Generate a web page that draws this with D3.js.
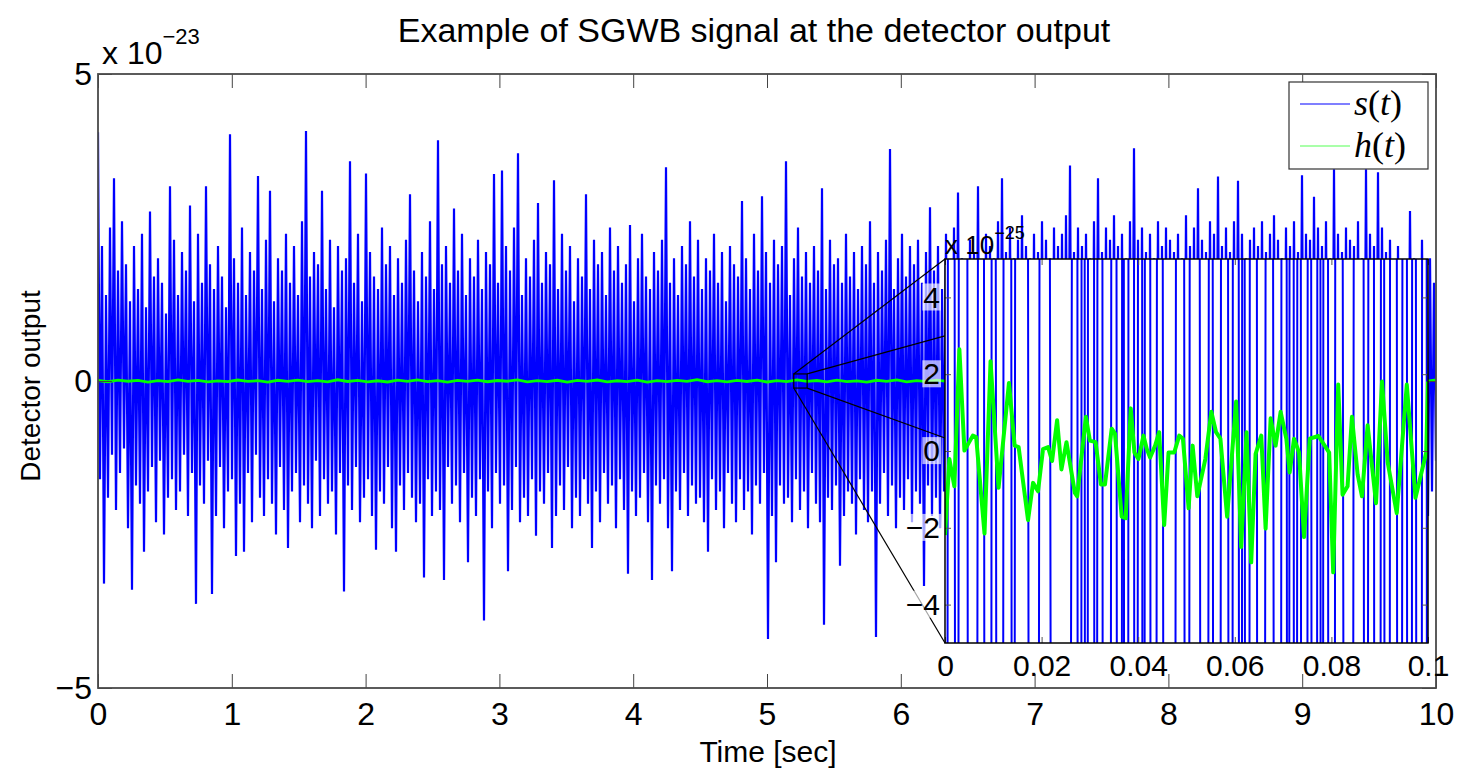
<!DOCTYPE html>
<html lang="en">
<head>
<meta charset="UTF-8">
<title>Example of SGWB signal at the detector output</title>
<script src="https://d3js.org/d3.v7.min.js"></script>
<style>
  body { margin: 0; background: #fff; }
  svg text { font-family: "Liberation Sans", Arial, Helvetica, sans-serif; fill: #000; }
  .legend-text { font-family: "Liberation Serif", "Times New Roman", serif; }
</style>
</head>
<body>
<svg id="chart" width="1458" height="768"></svg>
<script>
// s(t) over the full 10 s, read as alternating column peaks (units of 1e-23)
const sMain = [
  4.05,-1.6,2.2,-3.3,1.4,-1.9,2.5,-1.2,3.3,-2.1,
  1.8,-1.5,2.6,-1.1,1.9,-2.4,1.3,-3.4,2.2,-1.7,
  1.5,-2.0,2.4,-2.78,1.2,-1.8,2.76,-1.4,1.7,-2.3,
  2.0,-1.3,1.6,-2.5,1.1,-1.9,3.17,-1.6,2.3,-2.1,
  1.4,-1.8,2.1,-1.2,1.8,-2.2,2.86,-1.5,1.3,-3.63,
  2.4,-1.7,1.6,-2.0,3.17,-1.3,1.9,-3.47,1.5,-2.2,
  2.2,-1.4,1.7,-2.4,1.2,-1.8,4.02,-1.6,2.0,-2.85,
  1.6,-2.0,2.5,-2.78,1.4,-1.5,2.1,-2.3,1.8,-1.2,
  3.34,-1.9,1.5,-2.2,2.3,-1.6,3.1,-2.0,1.3,-2.5,
  2.0,-1.4,1.8,-2.1,2.4,-2.72,1.6,-1.8,2.2,-1.5,
  1.4,-2.3,2.6,-1.7,4.07,-2.0,1.7,-2.4,2.1,-1.3,
  1.9,-2.2,3.1,-1.6,1.5,-2.0,2.3,-1.8,1.2,-2.5,
  2.2,-1.5,1.8,-3.43,2.0,-1.7,3.58,-2.1,1.6,-1.4,
  2.4,-2.3,1.3,-1.9,3.38,-1.6,2.1,-2.2,1.7,-2.75,
  1.5,-1.8,2.5,-2.0,1.9,-1.4,2.2,-2.4,1.4,-2.78,
  2.0,-1.7,1.6,-2.1,2.3,-1.5,3.04,-1.9,1.8,-2.3,
  1.3,-2.0,2.1,-3.2,1.7,-1.6,2.6,-2.2,1.5,-1.8,
  3.92,-2.1,1.9,-3.24,2.2,-1.4,1.6,-2.0,2.81,-1.7,
  1.8,-2.3,2.4,-1.5,1.4,-2.95,2.0,-1.9,1.7,-2.2,
  2.3,-1.6,1.5,-3.9,2.1,-1.8,1.9,-2.4,3.37,-1.5,
  1.6,-2.0,3.43,-1.7,2.2,-3.1,1.8,-2.1,2.5,-1.4,
  3.71,-2.3,1.4,-1.9,2.0,-2.2,1.7,-1.6,2.3,-2.52,
  2.9,-1.8,1.6,-2.0,2.1,-1.5,1.9,-2.72,3.27,-2.2,
  1.5,-1.7,2.4,-2.1,1.8,-1.4,2.2,-2.4,1.3,-1.9,
  2.0,-2.2,1.7,-1.6,3.04,-2.0,1.5,-2.72,2.3,-1.8,
  1.9,-2.3,2.1,-1.5,1.4,-2.0,2.5,-1.7,1.8,-2.4,
  2.2,-1.6,1.6,-2.1,1.9,-3.14,2.54,-1.8,1.3,-2.2,
  2.0,-1.9,2.4,-1.5,1.7,-2.3,1.5,-3.24,2.1,-1.7,
  1.8,-2.0,2.3,-1.6,3.48,-2.4,1.6,-3.1,2.0,-1.8,
  1.4,-2.1,2.2,-1.5,1.9,-2.2,2.6,-1.7,1.7,-2.0,
  2.3,-1.9,1.5,-2.3,2.0,-2.78,1.8,-1.6,2.4,-2.1,
  1.6,-1.8,2.1,-2.4,1.3,-1.5,2.2,-2.0,1.9,-2.3,
  1.7,-1.6,2.93,-2.1,2.0,-1.8,1.5,-2.5,2.4,-1.7,
  1.8,-2.0,3.01,-1.5,2.1,-4.2,1.6,-2.2,2.3,-2.95,
  1.9,-1.7,2.2,-2.0,3.58,-1.9,1.4,-2.3,2.0,-1.6,
  2.5,-2.1,1.7,-1.8,2.1,-2.4,1.6,-1.5,2.2,-2.0,
  1.8,-2.3,3.14,-3.97,1.5,-1.9,2.3,-2.1,1.9,-1.7,
  2.0,-3.01,1.6,-2.2,2.4,-1.8,1.7,-2.0,2.1,-2.5,
  1.5,-1.6,2.2,-2.1,1.9,-2.3,2.6,-1.8,1.6,-4.17,
  2.1,-2.0,1.8,-1.5,2.3,-2.2,3.78,-1.7,1.5,-2.4,
  2.0,-1.9,2.4,-2.1,1.7,-1.6,2.2,-2.3,1.9,-1.8,
  2.3,-2.0,1.6,-3.34,2.1,-1.7,2.83,-2.2,1.8,-1.9,
  2.2,-2.4,1.5,-1.8,2.4,-2.1,1.9,-1.6,2.5,-2.3,
  3.07,-1.9,2.0,-2.2,1.7,-2.6,2.3,-1.8,2.1,-2.0,
  3.17,-2.3,1.9,-2.1,2.4,-1.7,2.2,-2.5,2.0,-1.9,
  2.6,-2.2,3.3,-2.0,2.1,-2.4,2.5,-1.8,2.0,-2.3,
  2.3,-2.1,2.7,-1.9,2.2,-2.6,2.0,-2.0,2.4,-2.2,
  2.1,-2.5,2.6,-1.8,2.3,-2.2,2.0,-2.7,2.5,-2.0,
  2.2,-2.3,2.4,-2.1,2.7,-1.9,3.51,-2.4,2.1,-2.2,
  2.5,-2.0,2.2,-2.6,2.4,-1.8,2.0,-2.3,2.6,-2.1,
  3.3,-2.2,2.1,-2.0,2.5,-2.4,2.3,-1.9,2.7,-2.2,
  2.2,-2.5,2.4,-2.1,2.0,-2.3,2.6,-2.0,3.79,-2.4,
  2.3,-2.1,2.5,-1.9,2.1,-2.6,2.4,-2.2,2.0,-2.3,
  2.6,-2.0,2.2,-2.4,2.5,-2.1,2.3,-2.5,2.1,-1.9,
  2.4,-2.2,2.0,-2.3,2.7,-2.1,2.2,-2.6,2.5,-2.0,
  3.14,-2.4,2.3,-2.1,2.1,-2.3,2.6,-1.9,2.4,-2.2,
  3.33,-2.0,2.2,-2.5,2.5,-2.2,2.1,-2.4,2.6,-2.1,
  3.26,-2.3,2.4,-2.0,2.0,-2.6,2.3,-2.2,2.5,-2.4,
  2.2,-2.1,2.6,-2.3,2.1,-2.0,2.4,-2.5,2.7,-2.2,
  2.3,-2.4,2.0,-2.1,2.5,-2.3,2.2,-2.0,2.6,-2.5,
  2.1,-2.2,3.35,-2.4,2.4,-2.0,2.3,-2.3,3.0,-2.1,
  2.5,-2.5,2.2,-2.2,2.6,-2.1,2.0,-2.4,3.45,-2.0,
  2.4,-2.3,2.1,-2.5,2.5,-2.2,2.3,-2.1,2.2,-2.4,
  2.6,-2.0,2.0,-2.3,3.45,-2.1,2.4,-2.5,2.2,-2.2,
  3.4,-2.4,2.5,-2.0,2.1,-2.3,2.3,-1.8,1.9,-2.2,
  2.2,-1.6,1.5,-2.1,1.8,-1.9,2.77,-1.5,2.0,-2.3,
  1.7,-2.0,2.3,-1.6,1.4,-2.2,2.0,-1.8,1.6,-1.3
];

// h(t) over the full 10 s (units of 1e-25)
const hMain = [
  0.8,-1.2,1.5,-0.4,0.9,-1.7,0.6,-0.9,1.9,-0.5,1.1,-1.4,0.3,-1.0,1.6,-0.7,0.5,-1.8,1.2,-0.6,
  1.4,-1.1,0.7,-1.5,2.0,-0.8,0.9,-1.3,0.4,-1.6,1.3,-0.5,1.7,-1.0,0.6,-1.9,1.0,-0.7,1.5,-1.2,
  0.8,-0.4,1.8,-1.4,0.5,-1.1,1.2,-1.7,0.9,-0.6,1.6,-1.3,0.4,-0.9,1.4,-1.8,0.7,-1.0,1.1,-0.5,
  2.1,-1.2,0.6,-1.5,1.0,-0.8,1.3,-1.6,0.5,-1.1,1.7,-0.7,0.8,-1.4,1.5,-0.9,0.3,-1.7,1.2,-0.6,
  1.9,-1.3,0.7,-1.0,1.4,-0.5,1.0,-1.8,0.6,-1.2,1.6,-0.8,0.9,-1.5,1.1,-0.4,1.8,-1.1,0.5,-1.6,
  1.3,-0.7,0.8,-1.3,1.5,-1.0,0.4,-1.9,1.2,-0.6,1.7,-1.2,0.7,-0.9,1.4,-1.4,0.9,-0.5,2.0,-1.1,
  0.6,-1.6,1.1,-0.8,1.6,-1.3,0.5,-1.0,1.3,-0.7,0.9,-1.5,1.2,-0.6,1.8
];

// zoomed segment 5.2 s – 5.3 s: times in ms
const hInsetT = [0,0.91,1.94,2.98,4.02,5.76,6.45,8.18,9.43,11.09,13.24,14.42,15.25,17.19,18.23,19.26,20.30,21.34,22.17,23.21,
  24.11,25.15,26.89,27.37,29.17,30.00,31.18,32.29,33.12,34.51,35.20,36.58,37.42,38.46,39.22,40.05,41.09,41.78,42.47,43.51,
  44.34,45.38,46.28,47.46,48.50,49.26,50.44,51.27,52.24,53.90,55.15,56.12,57.02,58.41,60.28,61.32,62.43,63.40,64.30,65.48,
  66.38,67.42,68.45,69.49,70.67,71.36,72.26,73.30,74.34,75.52,77.32,79.54,80.37,81.41,82.31,83.35,84.25,85.43,86.33,87.50,
  89.24,90.48,91.66,93.53,95.61,97.41,99.63,100];
// h(t) in the zoom (units of 1e-25)
const hInsetV = [-2.19,-0.21,-0.92,2.65,0.01,0.40,0.36,-2.15,2.34,-0.96,1.77,0.14,0.10,-1.80,-0.83,-1.05,0.05,0.10,-0.26,0.80,
  -0.48,0.23,-1.09,-1.18,0.89,0.27,0.23,-0.87,-0.87,0.58,0.45,-1.71,-1.75,1.11,-0.04,-0.21,0.40,0.05,-0.17,0.14,
  0.49,-1.93,-0.04,-0.04,0.40,0.32,-1.49,0.14,-1.18,-0.21,1.02,0.49,0.32,-1.71,1.29,-2.50,0.49,-2.90,-0.08,0.40,
  -2.02,0.85,0.14,1.02,0.32,-0.56,0.32,-0.04,-2.24,0.32,0.39,-0.04,-3.16,1.73,-1.14,-0.92,0.89,-0.61,-1.18,0.67,
  -1.36,1.81,-0.30,-1.62,1.73,-1.22,-0.04,1.81];

// s(t) in the zoom: times in ms, values in units of 1e-23 (far outside the zoom range)
const sInsetT = [0,1.25,2.45,3.7,5.5,7.6,9.05,9.9,11.5,12.85,14.1,15.7,18.3,20.5,23.8,27.2,27.9,28.55,29.25,30.2,
  31.2,32.1,33.3,35.0,36.2,36.85,37.55,38.5,39.5,40.4,41.1,41.95,43.0,44.4,46.5,48.7,50.1,51.6,53.7,55.1,
  56.3,57.8,59.2,60.3,61.2,61.7,62.55,63.95,65.15,67.05,69.15,70.2,71.05,71.9,72.45,73.3,74.35,75.4,76.6,77.45,
  77.98,78.85,79.9,81.25,83.7,85.8,87.15,88.35,89.4,90.6,91.65,92.7,94.1,95.3,96.15,97.0,98.25,99.3,100];
const sInsetV = [-0.9,1.1,-0.6,1.4,-1.2,0.8,-1.5,0.7,-1.0,1.3,-0.5,1.6,-1.1,0.9,-1.4,0.6,-1.2,1.0,-0.8,1.5,
  -0.7,1.2,-1.6,0.9,-1.1,0.5,-1.3,1.7,-0.9,1.0,-0.6,1.4,-1.2,0.8,-1.5,1.1,-0.7,1.3,-1.0,0.6,
  -1.4,1.2,-0.8,1.6,-1.1,0.7,-0.9,1.5,-1.3,0.8,-1.0,1.2,-0.6,1.4,-1.1,0.9,-1.5,0.7,-1.2,1.0,
  -0.8,1.3,-1.6,0.9,-1.0,1.4,-0.7,1.1,-1.3,0.6,-1.2,1.5,-0.9,1.0,-1.4,0.8,-1.1,1.2,-0.7];

const mainXTicks = [0,1,2,3,4,5,6,7,8,9,10];
const mainYTicks = [-5,0,5];
const insetXTicks = [0,0.02,0.04,0.06,0.08,0.1];
const insetYTicks = [-4,-2,0,2,4];
const zoomT = [5.2, 5.3];          // seconds
const zoomV = [-0.115, 0.115];     // units of 1e-23
// where the four connector lines meet the zoom axes (units of 1e-25)
const connectV = [5, 3.0, 0.34, -5];

const svg = d3.select("#chart");
const W = 1458, H = 768;
svg.append("rect").attr("width", W).attr("height", H).attr("fill", "#fff");

// ---------- main axes ----------
const m = { left: 98, right: 1436, top: 74, bottom: 688 };
const x = d3.scaleLinear().domain([0, 10]).range([m.left, m.right]);
const y = d3.scaleLinear().domain([-5, 5]).range([m.bottom, m.top]);

const defs = svg.append("defs");
defs.append("clipPath").attr("id", "mainClip")
  .append("rect").attr("x", m.left).attr("y", m.top)
  .attr("width", m.right - m.left).attr("height", m.bottom - m.top);

const plot = svg.append("g").attr("clip-path", "url(#mainClip)");

const sLine = d3.line()
  .x((d, i) => x(i * 10 / (sMain.length - 1)))
  .y(d => y(d));
plot.append("path").datum(sMain)
  .attr("d", sLine)
  .attr("fill", "none")
  .attr("stroke", "#0000ff")
  .attr("stroke-width", 2.2);

const hLine = d3.line()
  .x((d, i) => x(i * 10 / (hMain.length - 1)))
  .y(d => y(d / 100));
plot.append("path").datum(hMain)
  .attr("d", hLine)
  .attr("fill", "none")
  .attr("stroke", "#00ff00")
  .attr("stroke-width", 2.8);

// axis box + ticks
function styleAxis(g) {
  g.select(".domain").remove();
  g.selectAll(".tick line").attr("stroke", "#444").attr("stroke-width", 1);
  g.selectAll(".tick text").style("font-size", "32px").attr("fill", "#000");
}
svg.append("g").attr("transform", `translate(0,${m.bottom})`)
  .call(d3.axisBottom(x).tickValues(mainXTicks).tickSize(-14).tickPadding(14).tickFormat(d3.format("d")))
  .call(styleAxis);
svg.append("g").attr("transform", `translate(0,${m.top})`)
  .call(d3.axisTop(x).tickValues(mainXTicks).tickSize(-14).tickFormat(""))
  .call(styleAxis);
svg.append("g").attr("transform", `translate(${m.left},0)`)
  .call(d3.axisLeft(y).tickValues(mainYTicks).tickSize(-14).tickPadding(6).tickFormat(d3.format("d")))
  .call(styleAxis);
svg.append("g").attr("transform", `translate(${m.right},0)`)
  .call(d3.axisRight(y).tickValues(mainYTicks).tickSize(-14).tickFormat(""))
  .call(styleAxis);
svg.append("rect")
  .attr("x", m.left).attr("y", m.top)
  .attr("width", m.right - m.left).attr("height", m.bottom - m.top)
  .attr("fill", "none").attr("stroke", "#4a4a4a").attr("stroke-width", 1.8);

// exponent label
const expMain = svg.append("text").attr("x", 102).attr("y", 64).style("font-size", "32px");
expMain.append("tspan").text("x 10");
expMain.append("tspan").attr("dy", -20).style("font-size", "22px").text("\u221223");

// titles
svg.append("text").attr("x", 754).attr("y", 42).attr("text-anchor", "middle")
  .style("font-size", "34px").text("Example of SGWB signal at the detector output");
svg.append("text").attr("x", 768).attr("y", 762).attr("text-anchor", "middle")
  .style("font-size", "30px").text("Time [sec]");
svg.append("text").attr("transform", "translate(40,386) rotate(-90)").attr("text-anchor", "middle")
  .style("font-size", "28px").text("Detector output");

// ---------- zoom rectangle & connectors ----------
const ins = { left: 945, right: 1428, top: 259, bottom: 643 };
const xi = d3.scaleLinear().domain([0, 0.1]).range([ins.left, ins.right]);
const yi = d3.scaleLinear().domain([-5, 5]).range([ins.bottom, ins.top]);

svg.append("rect")
  .attr("x", x(zoomT[0])).attr("y", y(zoomV[1]))
  .attr("width", x(zoomT[1]) - x(zoomT[0])).attr("height", y(zoomV[0]) - y(zoomV[1]))
  .attr("fill", "none").attr("stroke", "#000").attr("stroke-width", 1.2);

const corners = [
  [zoomT[0], zoomV[1]], [zoomT[1], zoomV[1]], [zoomT[1], zoomV[0]], [zoomT[0], zoomV[0]]
];
corners.forEach((c, k) => {
  svg.append("line")
    .attr("x1", x(c[0])).attr("y1", y(c[1]))
    .attr("x2", xi(0)).attr("y2", yi(connectV[k]))
    .attr("stroke", "#000").attr("stroke-width", 1.2);
});

// ---------- inset ----------
defs.append("clipPath").attr("id", "insetClip")
  .append("rect").attr("x", ins.left).attr("y", ins.top)
  .attr("width", ins.right - ins.left).attr("height", ins.bottom - ins.top);

svg.append("rect")
  .attr("x", ins.left).attr("y", ins.top)
  .attr("width", ins.right - ins.left).attr("height", ins.bottom - ins.top)
  .attr("fill", "#fff");

const iplot = svg.append("g").attr("clip-path", "url(#insetClip)");
iplot.append("path").datum(sInsetV.map((v, i) => [sInsetT[i] / 1000, v * 100]))
  .attr("d", d3.line().x(d => xi(d[0])).y(d => yi(d[1])))
  .attr("fill", "none").attr("stroke", "#0000ff").attr("stroke-width", 2);
iplot.append("path").datum(hInsetV.map((v, i) => [hInsetT[i] / 1000, v]))
  .attr("d", d3.line().x(d => xi(d[0])).y(d => yi(d[1])))
  .attr("fill", "none").attr("stroke", "#00ff00").attr("stroke-width", 4)
  .attr("stroke-linejoin", "round");

function styleInset(g) {
  g.select(".domain").remove();
  g.selectAll(".tick line").attr("stroke", "#555").attr("stroke-width", 1);
  g.selectAll(".tick text").style("font-size", "30px").attr("fill", "#000");
}
svg.append("g").attr("transform", `translate(0,${ins.bottom})`)
  .call(d3.axisBottom(xi).tickValues(insetXTicks).tickSize(-6).tickPadding(12).tickFormat(d3.format("~g")))
  .call(styleInset);
svg.append("g").attr("transform", `translate(0,${ins.top})`)
  .call(d3.axisTop(xi).tickValues(insetXTicks).tickSize(-6).tickFormat(""))
  .call(styleInset);
const iyAxis = svg.append("g").attr("transform", `translate(${ins.left},0)`)
  .call(d3.axisLeft(yi).tickValues(insetYTicks).tickSize(-6).tickPadding(5).tickFormat(d3.format("d")))
  .call(styleInset);
svg.append("g").attr("transform", `translate(${ins.right},0)`)
  .call(d3.axisRight(yi).tickValues(insetYTicks).tickSize(-6).tickFormat(""))
  .call(styleInset);

// translucent label backgrounds on the zoom's y labels
iyAxis.selectAll(".tick").each(function () {
  const t = d3.select(this).select("text");
  const b = t.node().getBBox();
  d3.select(this).insert("rect", "text")
    .attr("x", b.x - 1).attr("y", b.y + 3)
    .attr("width", b.width + 2).attr("height", b.height - 6)
    .attr("fill", "#fff").attr("fill-opacity", 0.65);
});

svg.append("rect")
  .attr("x", ins.left).attr("y", ins.top)
  .attr("width", ins.right - ins.left).attr("height", ins.bottom - ins.top)
  .attr("fill", "none").attr("stroke", "#000").attr("stroke-width", 1.5);

const expInset = svg.append("text").attr("x", 945).attr("y", 254).style("font-size", "26px");
expInset.append("tspan").text("x 10");
expInset.append("tspan").attr("dy", -15).style("font-size", "18px").text("\u221225");

// ---------- legend ----------
const lg = svg.append("g").attr("transform", "translate(1289,82)");
lg.append("rect").attr("width", 139).attr("height", 87)
  .attr("fill", "#fff").attr("stroke", "#333").attr("stroke-width", 1.2);
const legendItems = [
  { name: "s", color: "#0000ff" },
  { name: "h", color: "#55ff55" }
];
legendItems.forEach((it, k) => {
  const cy = 22 + k * 42;
  lg.append("line").attr("x1", 11).attr("x2", 61).attr("y1", cy).attr("y2", cy)
    .attr("stroke", it.color).attr("stroke-width", 1.2);
  const t = lg.append("text").attr("class", "legend-text").attr("x", 65).attr("y", cy + 11)
    .style("font-size", "36px");
  t.append("tspan").style("font-style", "italic").text(it.name);
  t.append("tspan").text("(");
  t.append("tspan").style("font-style", "italic").text("t");
  t.append("tspan").text(")");
});
</script>
</body>
</html>
